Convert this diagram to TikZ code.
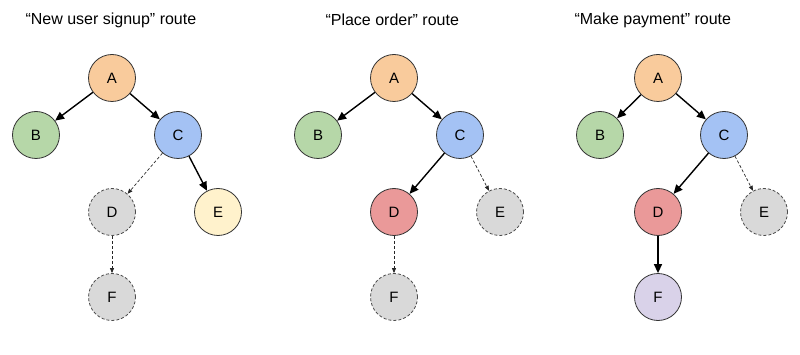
\documentclass[tikz,border=0pt]{standalone}
\usepackage{fontspec}
\setmainfont{Liberation Sans}
\usetikzlibrary{arrows.meta}
\definecolor{cA}{HTML}{F9CB9C}
\definecolor{cB}{HTML}{B6D7A8}
\definecolor{cC}{HTML}{A4C2F4}
\definecolor{cD}{HTML}{EA9999}
\definecolor{cE}{HTML}{FFF2CC}
\definecolor{cF}{HTML}{D9D2E9}
\definecolor{cG}{HTML}{D9D9D9}
\begin{document}
\begin{tikzpicture}[x=1pt,y=-1pt,
  nd/.style={circle,draw=black!80,line width=0.8pt,minimum size=47pt,inner sep=0pt,font=\fontsize{15}{17}\selectfont},
  ghost/.style={nd,fill=cG,dashed,draw=black!70,dash pattern=on 3pt off 2pt},
  solidarr/.style={-{Triangle[length=9pt,width=8pt]},line width=1.4pt},
  dasharr/.style={-{Triangle[length=5pt,width=4pt]},line width=0.7pt,dash pattern=on 3pt off 2pt,draw=black!85},
  ttl/.style={anchor=west,font=\fontsize{16}{19}\selectfont}]
\useasboundingbox (0,0) rectangle (800,355);
% Panel 1
\node[ttl] (t1) at (22,20) {“New user signup” route};
\node[nd,fill=cA] (a1) at (112,78) {A};
\node[nd,fill=cB] (b1) at (36,135) {B};
\node[nd,fill=cC] (c1) at (178,135) {C};
\node[ghost] (d1) at (112,212) {D};
\node[nd,fill=cE] (e1) at (218,212) {E};
\node[ghost] (f1) at (112,297) {F};
\draw[solidarr] (a1) -- (b1);
\draw[solidarr] (a1) -- (c1);
\draw[dasharr] (c1) -- (d1);
\draw[solidarr] (c1) -- (e1);
\draw[dasharr] (d1) -- (f1);
% Panel 2
\node[ttl] (t2) at (322,20) {“Place order” route};
\node[nd,fill=cA] (a2) at (394,78) {A};
\node[nd,fill=cB] (b2) at (318,135) {B};
\node[nd,fill=cC] (c2) at (460,135) {C};
\node[nd,fill=cD] (d2) at (394,212) {D};
\node[ghost] (e2) at (500,212) {E};
\node[ghost] (f2) at (394,297) {F};
\draw[solidarr] (a2) -- (b2);
\draw[solidarr] (a2) -- (c2);
\draw[solidarr] (c2) -- (d2);
\draw[dasharr] (c2) -- (e2);
\draw[dasharr] (d2) -- (f2);
% Panel 3
\node[ttl] (t3) at (571,20) {“Make payment” route};
\node[nd,fill=cA] (a3) at (658,78) {A};
\node[nd,fill=cB] (b3) at (600,135) {B};
\node[nd,fill=cC] (c3) at (724,135) {C};
\node[nd,fill=cD] (d3) at (658,212) {D};
\node[ghost] (e3) at (764,212) {E};
\node[nd,fill=cF] (f3) at (658,297) {F};
\draw[solidarr] (a3) -- (b3);
\draw[solidarr] (a3) -- (c3);
\draw[solidarr] (c3) -- (d3);
\draw[dasharr] (c3) -- (e3);
\draw[solidarr] (d3) -- (f3);
\end{tikzpicture}
\end{document}
